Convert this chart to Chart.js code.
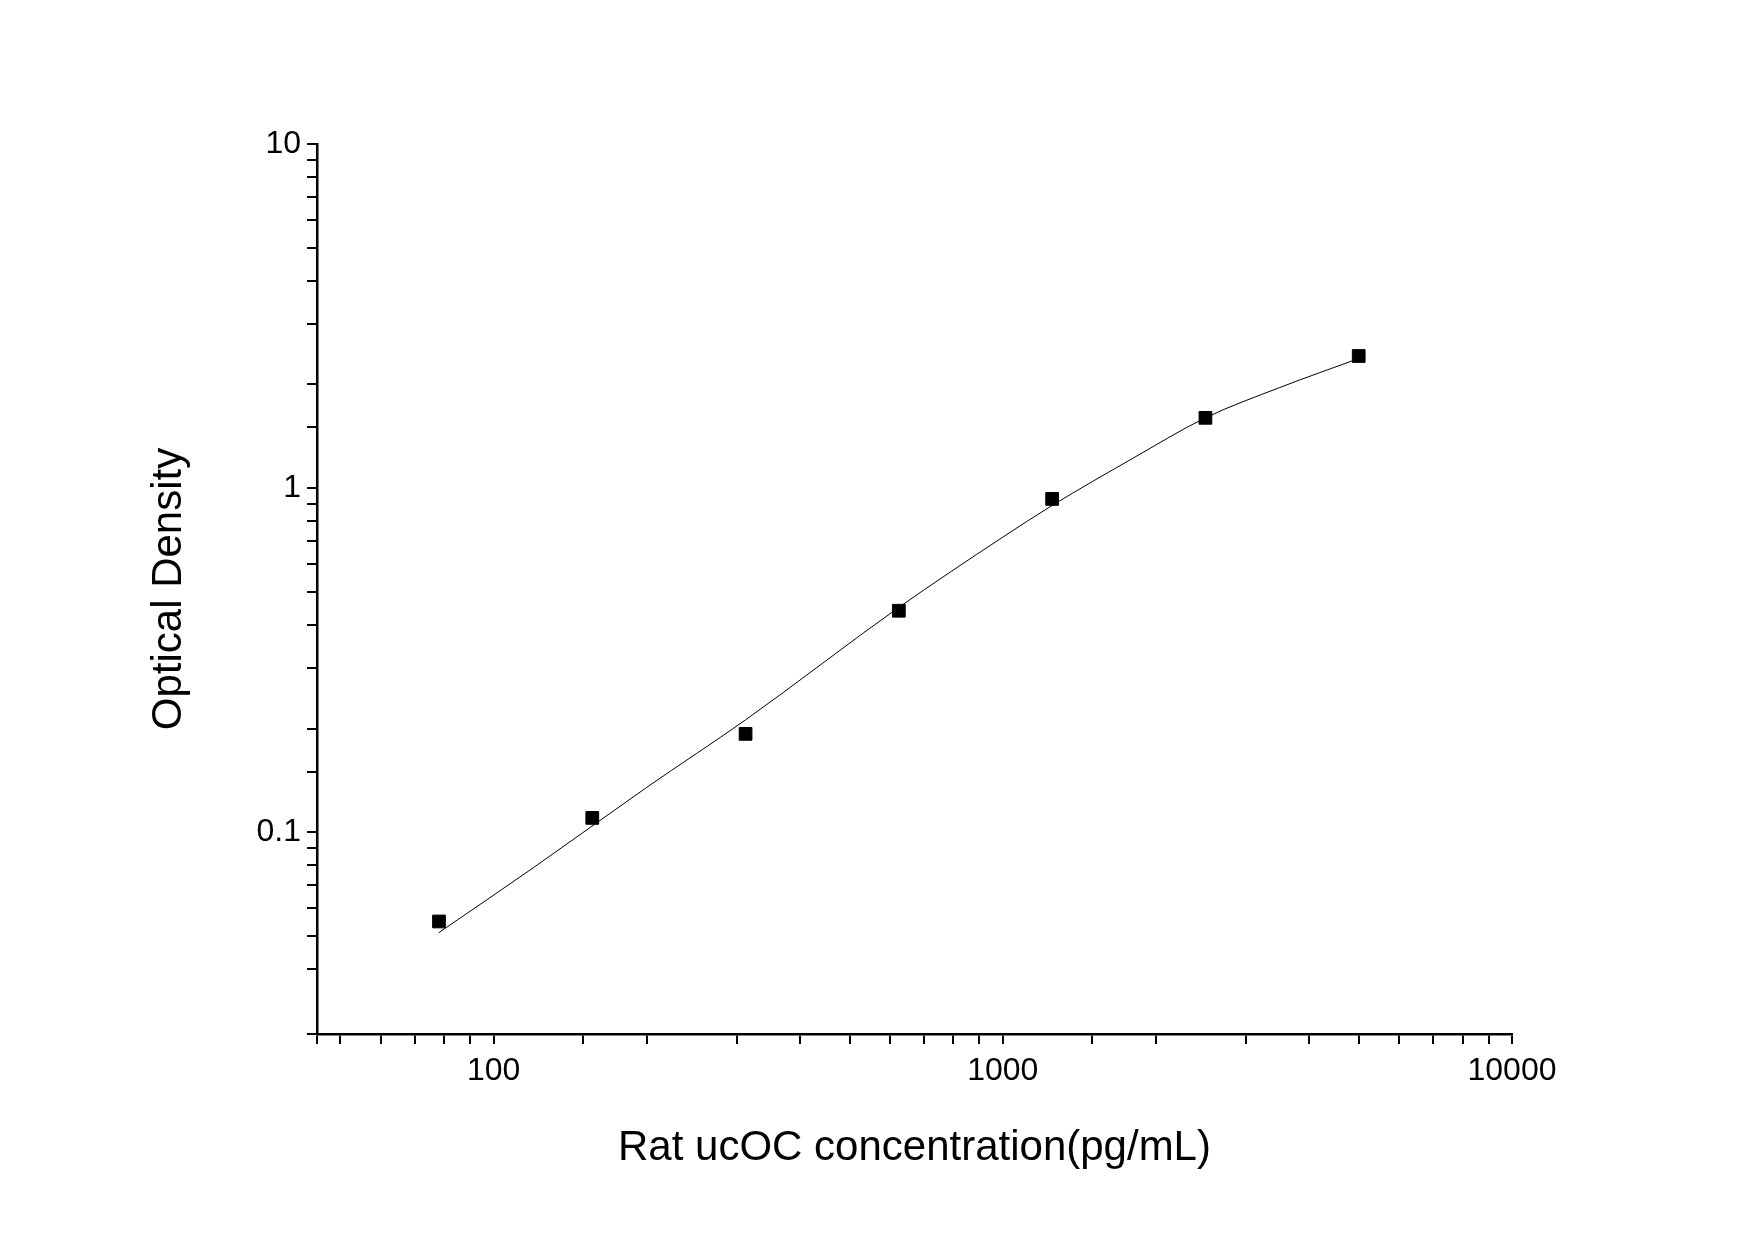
<!DOCTYPE html><html><head><script src="https://cdn.jsdelivr.net/npm/chart.js@4"></script>
<style>body{margin:0;background:#fff}#w{width:1755px;height:1240px}</style></head><body><div id="w"><canvas id="c"></canvas></div>
<script>
const conc=[78.125,156.25,312.5,625,1250,2500,5000];
const od=[0.055,0.11,0.193,0.44,0.93,1.6,2.42];
const curveX=[78,120,200,312.5,625,1000,1250,1800,2500,3500,5000];
const curveY=[0.051,0.079,0.135,0.212,0.45,0.72,0.89,1.22,1.6,1.96,2.38];
const xTicks=[100,1000,10000];const yTicks=[0.1,1,10];
const F='"Liberation Sans", Arial, sans-serif';
new Chart(document.getElementById('c'),{type:'scatter',data:{datasets:[
{data:curveX.map((x,i)=>({x,y:curveY[i]})),showLine:true,pointRadius:0,borderColor:'#000',borderWidth:1,cubicInterpolationMode:'monotone'},
{data:conc.map((x,i)=>({x,y:od[i]})),pointStyle:'rect',pointRadius:9,backgroundColor:'#000',borderColor:'#000',showLine:false}]},
options:{responsive:true,maintainAspectRatio:false,animation:false,events:[],layout:{padding:{top:144,right:243,left:140,bottom:62}},
plugins:{legend:{display:false},tooltip:{enabled:false}},
scales:{x:{type:'logarithmic',min:45,max:10000,border:{color:'#000',width:2.5},
grid:{drawOnChartArea:false,color:'#000',lineWidth:2,tickLength:10},
ticks:{color:'#000',font:{family:F,size:32},autoSkip:false,maxRotation:0,padding:8,callback:v=>xTicks.includes(v)?String(v):''},
title:{display:true,text:'Rat ucOC concentration(pg/mL)',color:'#000',font:{family:F,size:42},padding:{top:20}},
afterFit:a=>{a.height=144}},
y:{type:'logarithmic',min:0.0259,max:10,border:{color:'#000',width:2.5},
grid:{drawOnChartArea:false,color:'#000',lineWidth:2,tickLength:10},
ticks:{color:'#000',font:{family:F,size:32},autoSkip:false,padding:6,callback:v=>yTicks.includes(v)?String(v):''},
title:{display:true,text:'Optical Density',color:'#000',font:{family:F,size:42}},
afterFit:a=>{a.width=177}}}}});
</script></body></html>
